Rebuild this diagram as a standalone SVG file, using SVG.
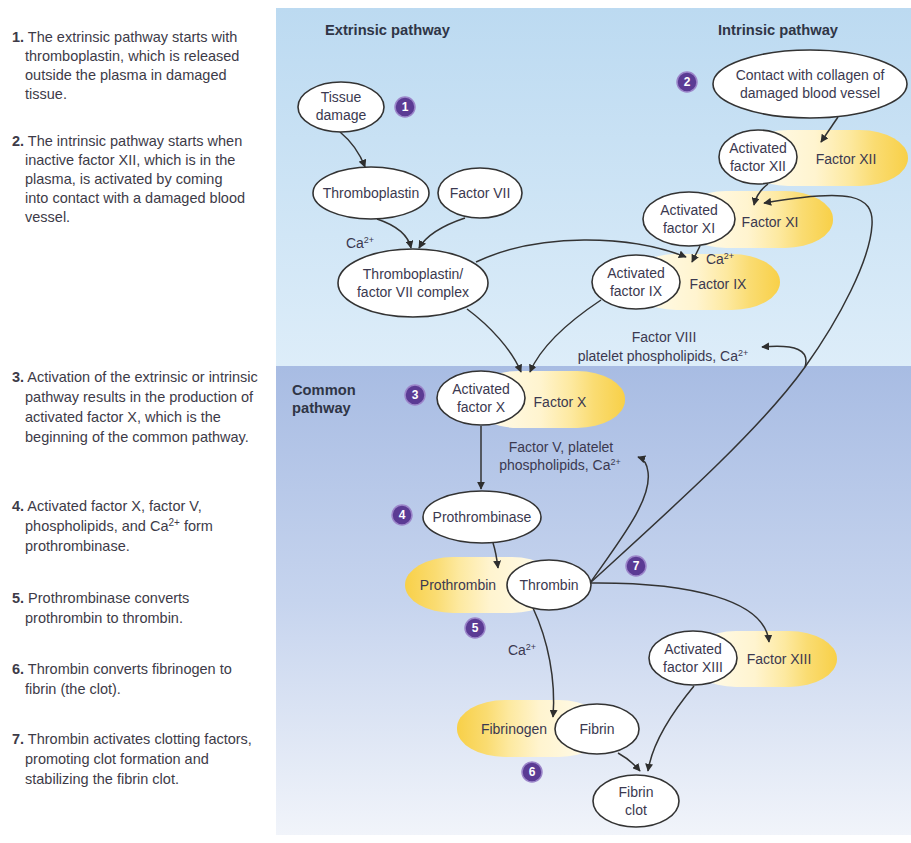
<svg xmlns="http://www.w3.org/2000/svg" width="911" height="843" viewBox="0 0 911 843">
<defs>
<linearGradient id="topBg" x1="0" y1="0" x2="0" y2="1"><stop offset="0" stop-color="#bcdaf1"/><stop offset="1" stop-color="#ddedf9"/></linearGradient>
<linearGradient id="comBg" x1="0" y1="0" x2="0" y2="1"><stop offset="0" stop-color="#a8bce3"/><stop offset="0.5" stop-color="#c6d4ee"/><stop offset="1" stop-color="#f1f4fa"/></linearGradient>
<linearGradient id="gR" x1="0" y1="0" x2="1" y2="0"><stop offset="0" stop-color="#fffdf2"/><stop offset="0.45" stop-color="#fff4cf"/><stop offset="0.65" stop-color="#fde9a0"/><stop offset="0.8" stop-color="#fadc72"/><stop offset="1" stop-color="#f8d048"/></linearGradient>
<linearGradient id="gL" x1="1" y1="0" x2="0" y2="0"><stop offset="0" stop-color="#fffdf2"/><stop offset="0.45" stop-color="#fff4cf"/><stop offset="0.65" stop-color="#fde9a0"/><stop offset="0.8" stop-color="#fadc72"/><stop offset="1" stop-color="#f8d048"/></linearGradient>
<marker id="ah" viewBox="0 0 10 10" refX="9" refY="5" markerWidth="8" markerHeight="8" markerUnits="userSpaceOnUse" orient="auto"><path d="M0,0 L10,5 L0,10 z" fill="#2e2e2e"/></marker>
<style>
.side{font-family:"Liberation Sans",Arial,sans-serif;font-size:14.5px;fill:#3d3b48}
.num{font-weight:bold}
.lbl{font-family:"Liberation Sans",Arial,sans-serif;font-size:14px;fill:#3b3950;text-anchor:middle}
.ttl{font-family:"Liberation Sans",Arial,sans-serif;font-size:14.7px;font-weight:bold;fill:#2f3546}
.node{fill:#ffffff;stroke:#333333;stroke-width:1.6}
.blob{stroke:none}
.con{fill:none;stroke:#333333;stroke-width:1.5;marker-end:url(#ah)}
.badge circle{fill:#5b3b94;stroke:#9b85c9;stroke-width:1.5}
.badge text{font-family:"Liberation Sans",Arial,sans-serif;font-size:12px;font-weight:bold;fill:#ffffff;text-anchor:middle}
</style>
</defs>

<rect x="0" y="0" width="911" height="843" fill="#ffffff"/>
<rect x="276" y="8" width="635" height="358" fill="url(#topBg)"/>
<rect x="276" y="366" width="635" height="469" fill="url(#comBg)"/>

<g id="side-text" class="side">
<text x="12" y="42"><tspan class="num">1.</tspan> The extrinsic pathway starts with</text>
<text x="25" y="61">thromboplastin, which is released</text>
<text x="25" y="80">outside the plasma in damaged</text>
<text x="25" y="99">tissue.</text>
<text x="12" y="146"><tspan class="num">2.</tspan> The intrinsic pathway starts when</text>
<text x="25" y="165">inactive factor XII, which is in the</text>
<text x="25" y="184">plasma, is activated by coming</text>
<text x="25" y="203">into contact with a damaged blood</text>
<text x="25" y="222">vessel.</text>
<text x="12" y="382"><tspan class="num">3.</tspan> Activation of the extrinsic or intrinsic</text>
<text x="25" y="402">pathway results in the production of</text>
<text x="25" y="422">activated factor X, which is the</text>
<text x="25" y="442">beginning of the common pathway.</text>
<text x="12" y="511"><tspan class="num">4.</tspan> Activated factor X, factor V,</text>
<text x="25" y="531">phospholipids, and Ca<tspan dy="-5" font-size="10">2+</tspan><tspan dy="5"> form</tspan></text>
<text x="25" y="551">prothrombinase.</text>
<text x="12" y="603"><tspan class="num">5.</tspan> Prothrombinase converts</text>
<text x="25" y="623">prothrombin to thrombin.</text>
<text x="12" y="674"><tspan class="num">6.</tspan> Thrombin converts fibrinogen to</text>
<text x="25" y="694">fibrin (the clot).</text>
<text x="12" y="744"><tspan class="num">7.</tspan> Thrombin activates clotting factors,</text>
<text x="25" y="764">promoting clot formation and</text>
<text x="25" y="784">stabilizing the fibrin clot.</text>
</g>

<g id="titles">
<text class="ttl" x="325" y="35">Extrinsic pathway</text>
<text class="ttl" x="718" y="35">Intrinsic pathway</text>
<text class="ttl" x="292" y="395">Common</text>
<text class="ttl" x="292" y="413">pathway</text>
</g>

<g id="blobs">
<rect class="blob" x="740" y="130" width="168" height="56" rx="48" ry="28" fill="url(#gR)"/>
<rect class="blob" x="678" y="191" width="155" height="57" rx="48" ry="28" fill="url(#gR)"/>
<rect class="blob" x="628" y="254" width="152" height="56" rx="48" ry="28" fill="url(#gR)"/>
<rect class="blob" x="470" y="371" width="155" height="57" rx="48" ry="28" fill="url(#gR)"/>
<rect class="blob" x="405" y="557" width="155" height="56" rx="48" ry="28" fill="url(#gL)"/>
<rect class="blob" x="688" y="631" width="149" height="56" rx="48" ry="28" fill="url(#gR)"/>
<rect class="blob" x="457" y="700" width="150" height="57" rx="48" ry="28" fill="url(#gL)"/>
</g>

<g id="connectors">
<path class="con" d="M340,132 Q357,146 365,167"/>
<path class="con" d="M377,219 C395,225 408,234 411,248"/>
<path class="con" d="M465,218 C441,226 426,236 419,248"/>
<path class="con" d="M476,262 C540,232 630,235 686,257"/>
<path class="con" d="M467,309 C490,326 512,350 521,372"/>
<path class="con" d="M601,300 C571,320 541,346 530,372"/>
<path class="con" d="M838,117 L821,142"/>
<path class="con" d="M768,184 C760,190 756,196 754,205"/>
<path class="con" d="M700,246 L692,262"/>
<path class="con" d="M590,583 C670,510 760,430 805,367 C840,318 870,260 872,225 C874,195 850,188 764,203"/>
<path class="con" d="M805,367 C810,350 796,344 762,347"/>
<path class="con" d="M481,426 L481,489"/>
<path class="con" d="M590,583 C620,540 652,500 648,472 C647,463 644,459 638,457"/>
<path class="con" d="M493,543 C496,552 497,560 498,568"/>
<path class="con" d="M590,583 C690,582 765,600 769,642"/>
<path class="con" d="M533,608 C548,640 556,680 553,717"/>
<path class="con" d="M618,753 C627,758 634,764 640,771"/>
<path class="con" d="M694,686 C670,715 652,745 648,771"/>
</g>

<g id="tissue-damage"><ellipse class="node" cx="341" cy="107" rx="43" ry="25"/><text class="lbl" x="341" y="102">Tissue</text><text class="lbl" x="341" y="120">damage</text></g>
<g id="thromboplastin"><ellipse class="node" cx="371" cy="193" rx="58" ry="26"/><text class="lbl" x="371" y="198">Thromboplastin</text></g>
<g id="factor-vii"><ellipse class="node" cx="480" cy="193" rx="42" ry="25"/><text class="lbl" x="480" y="198">Factor VII</text></g>
<g id="ca-1"><text class="lbl" x="360" y="248">Ca<tspan dy="-5" font-size="9">2+</tspan></text></g>
<g id="complex"><ellipse class="node" cx="413" cy="283" rx="75" ry="34"/><text class="lbl" x="413" y="279">Thromboplastin/</text><text class="lbl" x="413" y="297">factor VII complex</text></g>
<g id="contact"><ellipse class="node" cx="810" cy="84" rx="97" ry="34"/><text class="lbl" x="810" y="80">Contact with collagen of</text><text class="lbl" x="810" y="98">damaged blood vessel</text></g>
<g id="factor-xii"><ellipse class="node" cx="758" cy="157" rx="39" ry="27"/><text class="lbl" x="758" y="153">Activated</text><text class="lbl" x="758" y="171">factor XII</text><text class="lbl" x="846" y="164">Factor XII</text></g>
<g id="factor-xi"><ellipse class="node" cx="689" cy="219" rx="46" ry="27"/><text class="lbl" x="689" y="215">Activated</text><text class="lbl" x="689" y="233">factor XI</text><text class="lbl" x="770" y="227">Factor XI</text></g>
<g id="factor-ix"><ellipse class="node" cx="636" cy="282" rx="44" ry="27"/><text class="lbl" x="636" y="278">Activated</text><text class="lbl" x="636" y="296">factor IX</text><text class="lbl" x="718" y="289">Factor IX</text><text class="lbl" x="720" y="264">Ca<tspan dy="-5" font-size="9">2+</tspan></text></g>
<g id="factor-viii"><text class="lbl" x="664" y="342">Factor VIII</text><text class="lbl" x="663" y="361">platelet phospholipids, Ca<tspan dy="-5" font-size="9">2+</tspan></text></g>
<g id="factor-x"><ellipse class="node" cx="481" cy="398" rx="44" ry="27"/><text class="lbl" x="481" y="394">Activated</text><text class="lbl" x="481" y="412">factor X</text><text class="lbl" x="560" y="407">Factor X</text></g>
<g id="factor-v"><text class="lbl" x="561" y="452">Factor V, platelet</text><text class="lbl" x="560" y="470">phospholipids, Ca<tspan dy="-5" font-size="9">2+</tspan></text></g>
<g id="prothrombinase"><ellipse class="node" cx="482" cy="517" rx="59" ry="26"/><text class="lbl" x="482" y="522">Prothrombinase</text></g>
<g id="thrombin"><text class="lbl" x="458" y="590">Prothrombin</text><ellipse class="node" cx="549" cy="585" rx="42" ry="25"/><text class="lbl" x="549" y="590">Thrombin</text></g>
<g id="ca-2"><text class="lbl" x="522" y="655">Ca<tspan dy="-5" font-size="9">2+</tspan></text></g>
<g id="factor-xiii"><ellipse class="node" cx="693" cy="658" rx="44" ry="27"/><text class="lbl" x="693" y="654">Activated</text><text class="lbl" x="693" y="672">factor XIII</text><text class="lbl" x="779" y="664">Factor XIII</text></g>
<g id="fibrin"><text class="lbl" x="514" y="734">Fibrinogen</text><ellipse class="node" cx="597" cy="729" rx="42" ry="25"/><text class="lbl" x="597" y="734">Fibrin</text></g>
<g id="fibrin-clot"><ellipse class="node" cx="636" cy="801" rx="43" ry="26"/><text class="lbl" x="636" y="797">Fibrin</text><text class="lbl" x="636" y="815">clot</text></g>

<g id="badges">
<g class="badge"><circle cx="405" cy="107" r="10"/><text x="405" y="111">1</text></g>
<g class="badge"><circle cx="687" cy="82" r="10"/><text x="687" y="86">2</text></g>
<g class="badge"><circle cx="415" cy="395" r="10"/><text x="415" y="399">3</text></g>
<g class="badge"><circle cx="402" cy="515" r="10"/><text x="402" y="519">4</text></g>
<g class="badge"><circle cx="475" cy="628" r="10"/><text x="475" y="632">5</text></g>
<g class="badge"><circle cx="532" cy="772" r="10"/><text x="532" y="776">6</text></g>
<g class="badge"><circle cx="636" cy="566" r="10"/><text x="636" y="570">7</text></g>
</g>
</svg>
